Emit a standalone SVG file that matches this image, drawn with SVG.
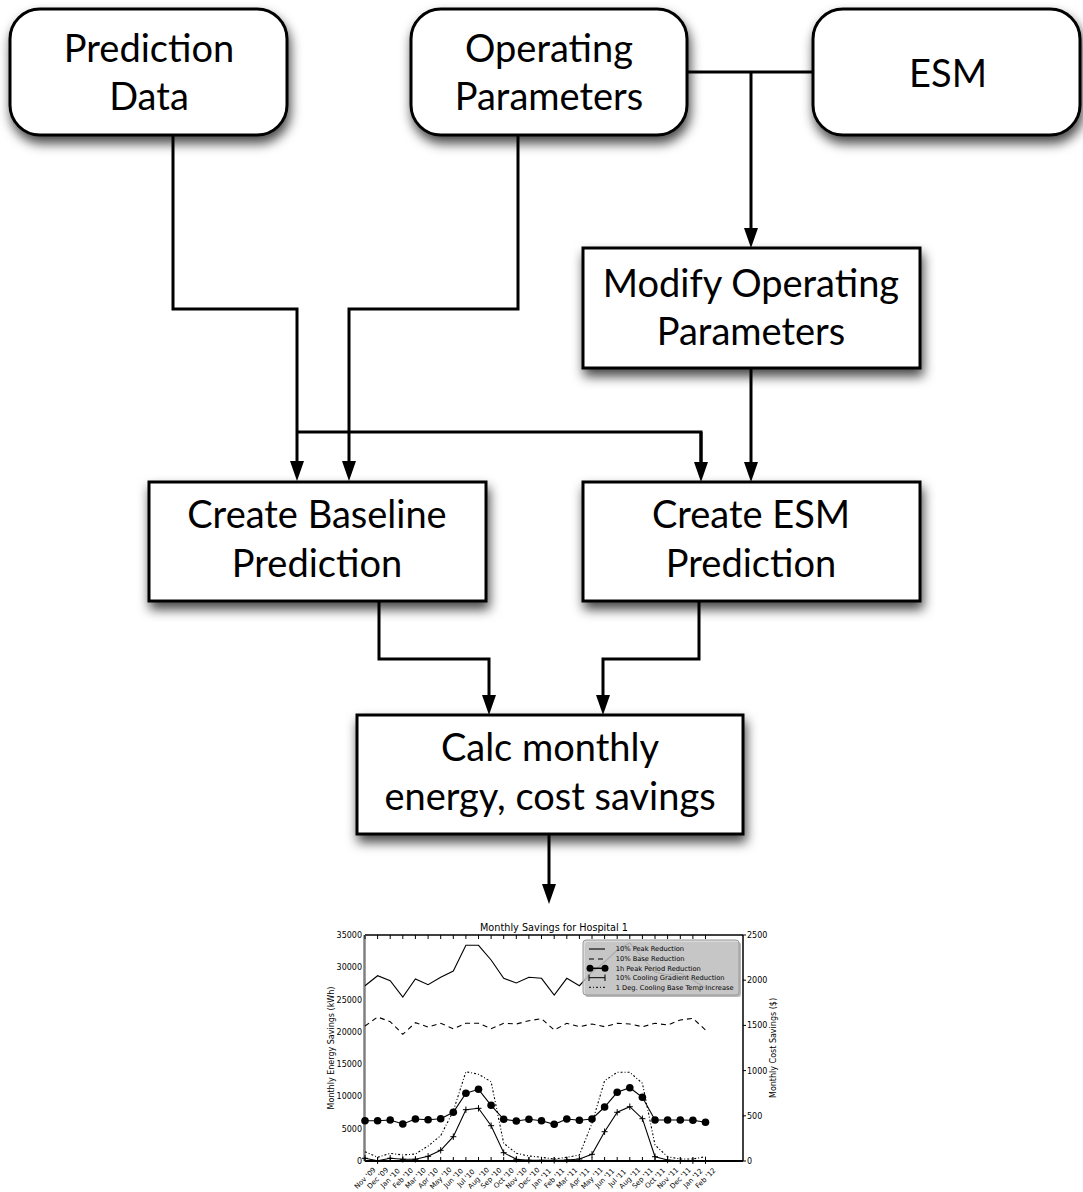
<svg xmlns="http://www.w3.org/2000/svg" width="1083" height="1192" viewBox="0 0 1083 1192">
<style>
.box{fill:#fff;stroke:#000;stroke-width:3;filter:url(#sh)}
.lbl{font-family:Lato,"Open Sans","Liberation Sans",sans-serif;font-size:38px;fill:#000;text-anchor:middle}
.con{fill:none;stroke:#000;stroke-width:3;stroke-linejoin:miter}
.arr{marker-end:url(#ah)}
.ch{font-family:"DejaVu Sans","Liberation Sans",sans-serif;fill:#000}
.tk{font-size:8px}
.xl{font-size:7px;text-anchor:middle}
.ser{fill:none;stroke:#000;stroke-width:1.1}
.lg{font-size:6.7px}
</style>
<defs>
<filter id="sh" x="-20%" y="-20%" width="140%" height="160%">
<feDropShadow dx="2" dy="7" stdDeviation="6" flood-color="#000" flood-opacity="0.72"/>
</filter>
<marker id="ah" markerUnits="userSpaceOnUse" viewBox="0 0 20 14" refX="10" refY="7" markerWidth="20" markerHeight="14" orient="auto">
<path d="M0,0L20,7L0,14z" fill="#000"/>
</marker>
<marker id="dot" markerUnits="userSpaceOnUse" viewBox="-5 -5 10 10" refX="0" refY="0" markerWidth="10" markerHeight="10">
<circle r="3.8" fill="#000"/>
</marker>
<marker id="plus" markerUnits="userSpaceOnUse" viewBox="-5 -5 10 10" refX="0" refY="0" markerWidth="10" markerHeight="10">
<path d="M-3,0H3M0,-3.2V3.2" stroke="#000" stroke-width="1"/>
</marker>
</defs>
<rect width="1083" height="1192" fill="#fff"/>

<g id="connectors">
<path class="con arr" d="M173,135V309H297V471"/>
<path class="con" d="M297,432H701V472"/>
<path class="con arr" d="M701,432V472"/>
<path class="con arr" d="M518,135V309H349V471"/>
<path class="con" d="M687,72H813"/>
<path class="con arr" d="M751,72V238"/>
<path class="con arr" d="M751,368V472"/>
<path class="con arr" d="M379,601V659H489V705"/>
<path class="con arr" d="M699,601V659H603V705"/>
<path class="con arr" d="M549,834V894"/>
</g>

<g id="n-prediction-data">
<rect class="box" x="10" y="9" width="277" height="126" rx="30"/>
<text class="lbl" x="149" y="61.7">Prediction</text>
<text class="lbl" x="149" y="110">Data</text>
</g>
<g id="n-operating-parameters">
<rect class="box" x="411" y="9" width="276" height="126" rx="30"/>
<text class="lbl" x="549" y="61.7">Operating</text>
<text class="lbl" x="549" y="110">Parameters</text>
</g>
<g id="n-esm">
<rect class="box" x="813" y="9" width="267" height="126" rx="30"/>
<text class="lbl" x="948" y="86.7">ESM</text>
</g>
<g id="n-modify">
<rect class="box" x="583" y="248" width="337" height="120"/>
<text class="lbl" x="751" y="296.7">Modify Operating</text>
<text class="lbl" x="751" y="345">Parameters</text>
</g>
<g id="n-baseline">
<rect class="box" x="149" y="482" width="337" height="119"/>
<text class="lbl" x="317" y="528.3">Create Baseline</text>
<text class="lbl" x="317" y="576.7">Prediction</text>
</g>
<g id="n-esm-prediction">
<rect class="box" x="583" y="482" width="337" height="119"/>
<text class="lbl" x="751" y="528.3">Create ESM</text>
<text class="lbl" x="751" y="576.7">Prediction</text>
</g>
<g id="n-calc">
<rect class="box" x="357" y="715" width="386" height="119"/>
<text class="lbl" x="550" y="761.3">Calc monthly</text>
<text class="lbl" x="550" y="809.7">energy, cost savings</text>
</g>

<g id="n-chart" class="ch">
<text x="554" y="930.5" font-size="9.7" text-anchor="middle">Monthly Savings for Hospital 1</text>
<line x1="365" y1="935" x2="743" y2="935" stroke="#000" stroke-width="1.5"/>
<line x1="365" y1="1161" x2="743" y2="1161" stroke="#000" stroke-width="2"/>
<line x1="743" y1="935" x2="743" y2="1161" stroke="#000" stroke-width="1.5"/>
<line x1="364.5" y1="935" x2="364.5" y2="1161" stroke="#808080" stroke-width="2.5"/>
<path stroke="#000" stroke-width="1" d="M365,935v4M377.6,935v4M390.2,935v4M402.8,935v4M415.4,935v4M428.1,935v4M440.7,935v4M453.3,935v4M465.9,935v4M478.5,935v4M491.1,935v4M503.7,935v4M516.3,935v4M528.9,935v4M541.5,935v4M554.2,935v4M566.8,935v4M579.4,935v4M592,935v4M604.6,935v4M617.2,935v4M629.8,935v4M642.4,935v4M655,935v4M667.6,935v4M680.3,935v4M692.9,935v4M705.5,935v4
M365,1161v-4M377.6,1161v-4M390.2,1161v-4M402.8,1161v-4M415.4,1161v-4M428.1,1161v-4M440.7,1161v-4M453.3,1161v-4M465.9,1161v-4M478.5,1161v-4M491.1,1161v-4M503.7,1161v-4M516.3,1161v-4M528.9,1161v-4M541.5,1161v-4M554.2,1161v-4M566.8,1161v-4M579.4,1161v-4M592,1161v-4M604.6,1161v-4M617.2,1161v-4M629.8,1161v-4M642.4,1161v-4M655,1161v-4M667.6,1161v-4M680.3,1161v-4M692.9,1161v-4M705.5,1161v-4
M743,935h3M743,980.2h3M743,1025.4h3M743,1070.6h3M743,1115.8h3M743,1161h3"/>
<g class="tk" text-anchor="end">
<text x="362" y="938">35000</text>
<text x="362" y="970.3">30000</text>
<text x="362" y="1002.6">25000</text>
<text x="362" y="1034.9">20000</text>
<text x="362" y="1067.1">15000</text>
<text x="362" y="1099.4">10000</text>
<text x="362" y="1131.7">5000</text>
<text x="362" y="1164">0</text>
</g>
<g class="tk">
<text x="747" y="938">2500</text>
<text x="747" y="983.2">2000</text>
<text x="747" y="1028.4">1500</text>
<text x="747" y="1073.6">1000</text>
<text x="747" y="1118.8">500</text>
<text x="747" y="1164">0</text>
</g>
<text class="tk" transform="translate(334,1048) rotate(-90)" text-anchor="middle">Monthly Energy Savings (kWh)</text>
<text class="tk" transform="translate(776,1048) rotate(-90)" text-anchor="middle">Monthly Cost Savings ($)</text>
<g class="xl">
<text transform="translate(365,1178) rotate(-45)" dy="2.5">Nov '09</text>
<text transform="translate(377.6,1178) rotate(-45)" dy="2.5">Dec '09</text>
<text transform="translate(390.2,1178) rotate(-45)" dy="2.5">Jan '10</text>
<text transform="translate(402.8,1178) rotate(-45)" dy="2.5">Feb '10</text>
<text transform="translate(415.4,1178) rotate(-45)" dy="2.5">Mar '10</text>
<text transform="translate(428.1,1178) rotate(-45)" dy="2.5">Apr '10</text>
<text transform="translate(440.7,1178) rotate(-45)" dy="2.5">May '10</text>
<text transform="translate(453.3,1178) rotate(-45)" dy="2.5">Jun '10</text>
<text transform="translate(465.9,1178) rotate(-45)" dy="2.5">Jul '10</text>
<text transform="translate(478.5,1178) rotate(-45)" dy="2.5">Aug '10</text>
<text transform="translate(491.1,1178) rotate(-45)" dy="2.5">Sep '10</text>
<text transform="translate(503.7,1178) rotate(-45)" dy="2.5">Oct '10</text>
<text transform="translate(516.3,1178) rotate(-45)" dy="2.5">Nov '10</text>
<text transform="translate(528.9,1178) rotate(-45)" dy="2.5">Dec '10</text>
<text transform="translate(541.5,1178) rotate(-45)" dy="2.5">Jan '11</text>
<text transform="translate(554.2,1178) rotate(-45)" dy="2.5">Feb '11</text>
<text transform="translate(566.8,1178) rotate(-45)" dy="2.5">Mar '11</text>
<text transform="translate(579.4,1178) rotate(-45)" dy="2.5">Apr '11</text>
<text transform="translate(592,1178) rotate(-45)" dy="2.5">May '11</text>
<text transform="translate(604.6,1178) rotate(-45)" dy="2.5">Jun '11</text>
<text transform="translate(617.2,1178) rotate(-45)" dy="2.5">Jul '11</text>
<text transform="translate(629.8,1178) rotate(-45)" dy="2.5">Aug '11</text>
<text transform="translate(642.4,1178) rotate(-45)" dy="2.5">Sep '11</text>
<text transform="translate(655,1178) rotate(-45)" dy="2.5">Oct '11</text>
<text transform="translate(667.6,1178) rotate(-45)" dy="2.5">Nov '11</text>
<text transform="translate(680.3,1178) rotate(-45)" dy="2.5">Dec '11</text>
<text transform="translate(692.9,1178) rotate(-45)" dy="2.5">Jan '12</text>
<text transform="translate(705.5,1178) rotate(-45)" dy="2.5">Feb '12</text>
</g>
<polyline class="ser" points="365,985.7 377.6,975.7 390.2,980.7 402.8,997 415.4,979 428.1,984.7 440.7,977.3 453.3,971 465.9,945.3 478.5,945.3 491.1,960 503.7,978.3 516.3,983 528.9,977.3 541.5,978.3 554.2,995 566.8,978.3 579.4,985.7 592,972 604.6,962 617.2,950 629.8,943 642.4,958 655,972 667.6,975 680.3,973 692.9,980 705.5,988"/>
<polyline class="ser" stroke-dasharray="5,4" points="365,1026 377.6,1017 390.2,1021.7 402.8,1034.3 415.4,1022.7 428.1,1027 440.7,1023.3 453.3,1028.7 465.9,1023.3 478.5,1023.3 491.1,1028.7 503.7,1023.3 516.3,1024 528.9,1020.7 541.5,1018.7 554.2,1030 566.8,1023.3 579.4,1026.7 592,1024 604.6,1026.7 617.2,1023.3 629.8,1024 642.4,1026.7 655,1023.3 667.6,1025 680.3,1020 692.9,1018.3 705.5,1030"/>
<polyline class="ser" stroke-width="1.5" marker-start="url(#dot)" marker-mid="url(#dot)" marker-end="url(#dot)" points="365,1120.7 377.6,1120.7 390.2,1120 402.8,1124 415.4,1119 428.1,1119.7 440.7,1118.7 453.3,1112.3 465.9,1093.3 478.5,1089.3 491.1,1105.3 503.7,1119.3 516.3,1121 528.9,1119.3 541.5,1120.7 554.2,1124.3 566.8,1119 579.4,1120.3 592,1119 604.6,1107 617.2,1092.3 629.8,1087.7 642.4,1097.3 655,1120 667.6,1120 680.3,1120 692.9,1120.3 705.5,1122.3"/>
<polyline class="ser" marker-start="url(#plus)" marker-mid="url(#plus)" marker-end="url(#plus)" points="365,1158.3 377.6,1160.7 390.2,1158.3 402.8,1159.3 415.4,1159.3 428.1,1156.3 440.7,1150.3 453.3,1136.7 465.9,1109.7 478.5,1108.3 491.1,1125.7 503.7,1152.7 516.3,1159.3 528.9,1160.3 541.5,1160.3 554.2,1160.3 566.8,1160 579.4,1159 592,1154.3 604.6,1131.7 617.2,1112.3 629.8,1106.7 642.4,1118.7 655,1156.7 667.6,1160 680.3,1160.7 692.9,1160.7 705.5,1160.7"/>
<polyline class="ser" stroke-width="1" stroke-dasharray="2,2,1,2" points="365,1151.7 377.6,1157.3 390.2,1153.3 402.8,1155 415.4,1154 428.1,1146 440.7,1135.7 453.3,1111 465.9,1071.7 478.5,1074.3 491.1,1081.7 503.7,1143.3 516.3,1153.3 528.9,1156 541.5,1157.3 554.2,1159 566.8,1157.3 579.4,1155 592,1123.3 604.6,1080.7 617.2,1072.3 629.8,1072.3 642.4,1083.3 655,1145 667.6,1156.7 680.3,1159 692.9,1159 705.5,1156.7"/>
<rect x="585" y="942" width="156" height="55" rx="3" fill="#888" fill-opacity="0.6"/>
<rect x="583" y="940" width="156" height="55" rx="3" fill="#cccccc" fill-opacity="0.72" stroke="#999" stroke-width="1"/>
<line x1="589" y1="949" x2="605" y2="949" stroke="#000" stroke-width="1.1"/>
<line x1="589" y1="959" x2="605" y2="959" stroke="#000" stroke-width="1.1" stroke-dasharray="5,4"/>
<line x1="590" y1="968.3" x2="605" y2="968.3" stroke="#000" stroke-width="1.5"/>
<circle cx="590" cy="968.3" r="3.5"/>
<circle cx="605" cy="968.3" r="3.5"/>
<path d="M589,977.7H605M589,974.5V981M605,974.5V981" stroke="#000" stroke-width="1"/>
<line x1="589" y1="987.3" x2="605" y2="987.3" stroke="#000" stroke-width="1" stroke-dasharray="2,2,1,2"/>
<g class="lg">
<text x="615.7" y="951.2">10% Peak Reduction</text>
<text x="615.7" y="961.2">10% Base Reduction</text>
<text x="615.7" y="970.5">1h Peak Period Reduction</text>
<text x="615.7" y="979.9">10% Cooling Gradient Reduction</text>
<text x="615.7" y="989.5">1 Deg. Cooling Base Temp Increase</text>
</g>
</g>
</svg>
